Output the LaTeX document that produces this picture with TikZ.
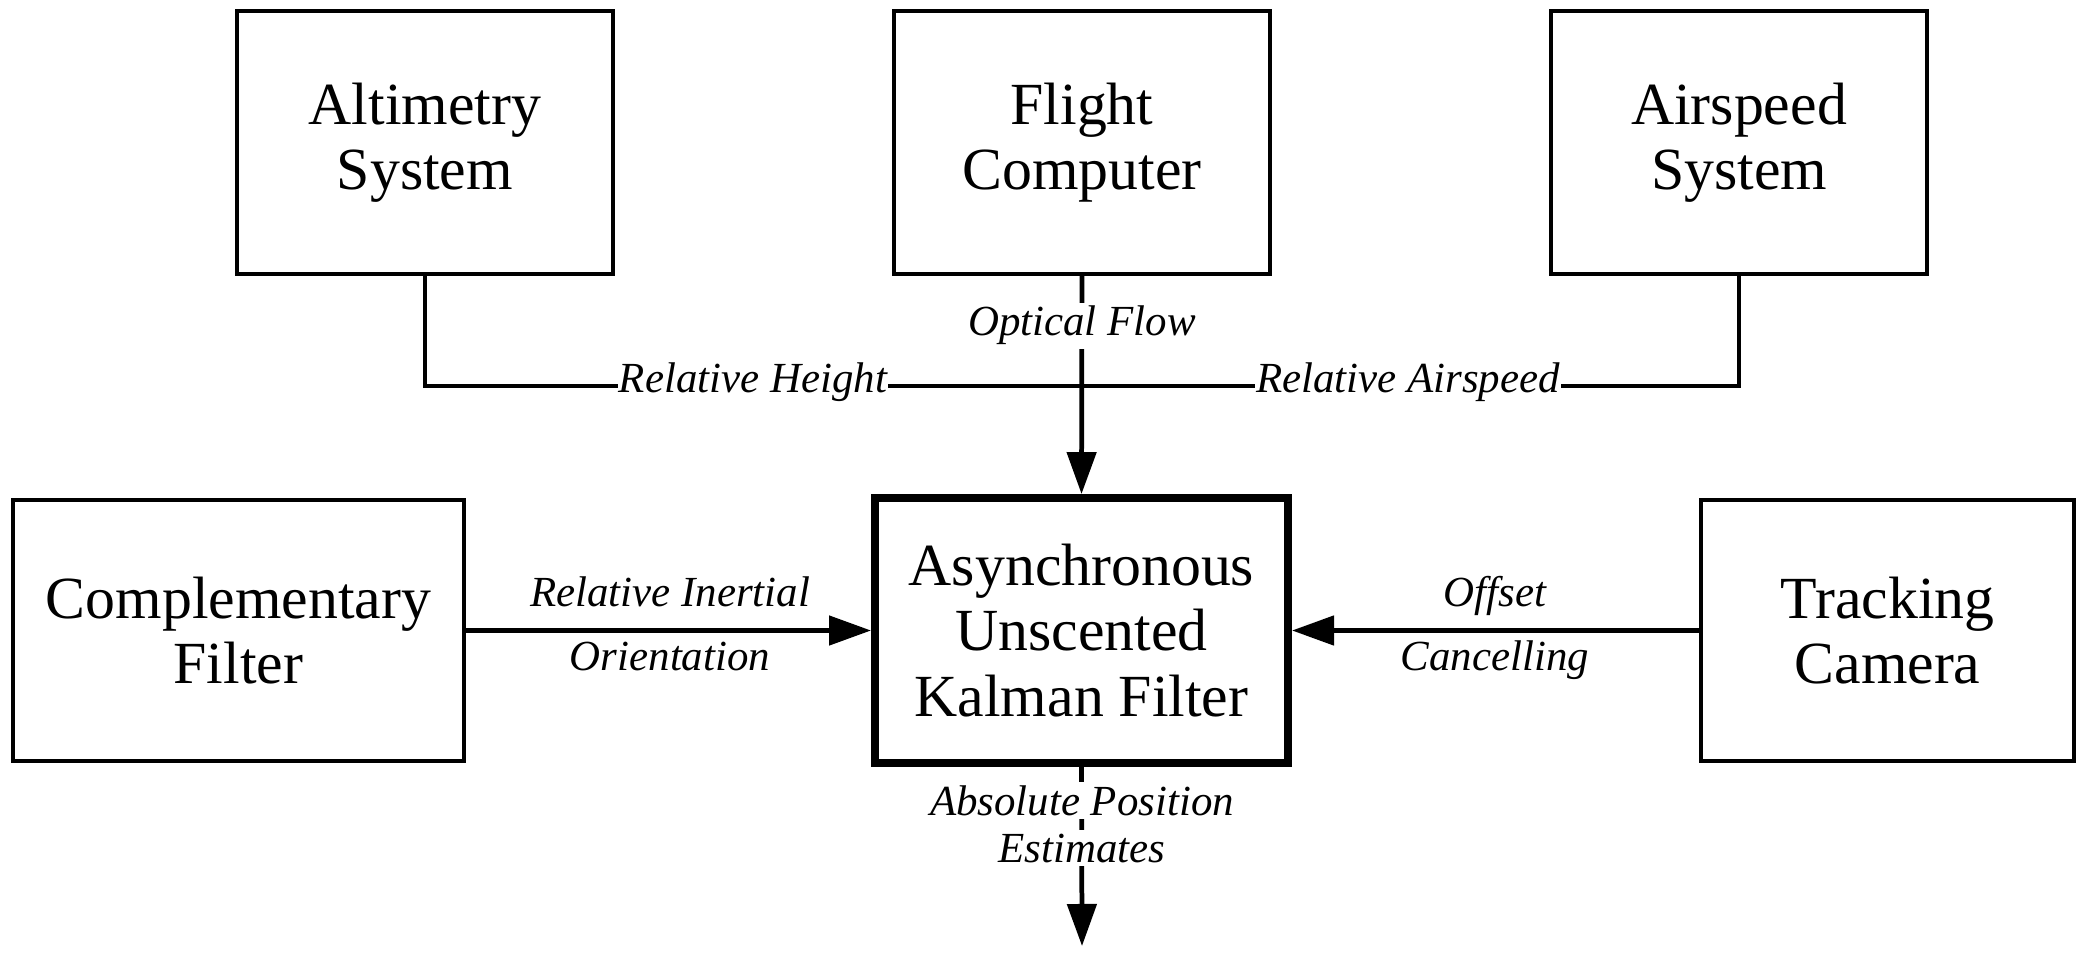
\documentclass[tikz,border=0pt]{standalone}
\usepackage{fontspec}
\setmainfont{Liberation Serif}
\usetikzlibrary{arrows.meta}
\begin{document}
\begin{tikzpicture}[x=0.01cm,y=-0.01cm]
\tikzset{
  box/.style={draw, line width=1pt, inner sep=0pt, align=center, font=\fontsize{17}{18.5}\selectfont},
  mainbox/.style={box, line width=2.2pt},
  conn/.style={line width=1.35pt},
  arr/.style={conn, -{Triangle[length=0.42cm,width=0.29cm]}},
  lbl/.style={font=\fontsize{12.2}{13.5}\selectfont\itshape, inner sep=1pt, align=center, anchor=base},
  lblw/.style={lbl, fill=white, inner xsep=0.3pt},
}
\useasboundingbox (0,0) rectangle (2089,961);
\node[box, minimum width=3.76cm, minimum height=2.63cm] (alt) at (425,142.5) {Altimetry\\System};
\node[box, minimum width=3.76cm, minimum height=2.63cm] (fc) at (1082,142.5) {Flight\\Computer};
\node[box, minimum width=3.76cm, minimum height=2.63cm] (air) at (1739,142.5) {Airspeed\\System};
\node[box, minimum width=4.51cm, minimum height=2.61cm] (cf) at (238.5,630.5) {Complementary\\Filter};
\node[mainbox, minimum width=4.13cm, minimum height=2.65cm] (ukf) at (1081.5,630.5) {Asynchronous\\Unscented\\Kalman Filter};
\node[box, minimum width=3.73cm, minimum height=2.61cm] (tc) at (1887.5,630.5) {Tracking\\Camera};
\coordinate (j) at (1082,386);
\coordinate (out) at (1082,946);
\draw[conn] (alt.south) |- (j);
\draw[conn] (air.south) |- (j);
\draw[arr] (fc.south) -- (ukf.north);
\draw[arr] (cf.east) -- (ukf.west);
\draw[arr] (tc.west) -- (ukf.east);
\draw[arr] (ukf.south) -- (out);
\node[lblw] (lof) at (1082,336) {Optical Flow};
\node[lblw] (lrh) at (753,393) {Relative Height};
\node[lblw] (lra) at (1408,393) {Relative Airspeed};
\node[lbl] (lri) at (670,606) {Relative Inertial};
\node[lbl] (lor) at (670,670) {Orientation};
\node[lbl] (lof2) at (1495,606) {Offset};
\node[lbl] (lca) at (1495,670) {Cancelling};
\node[lblw] (lap) at (1082,815) {Absolute Position};
\node[lblw] (les) at (1082,862) {Estimates};
\end{tikzpicture}
\end{document}
